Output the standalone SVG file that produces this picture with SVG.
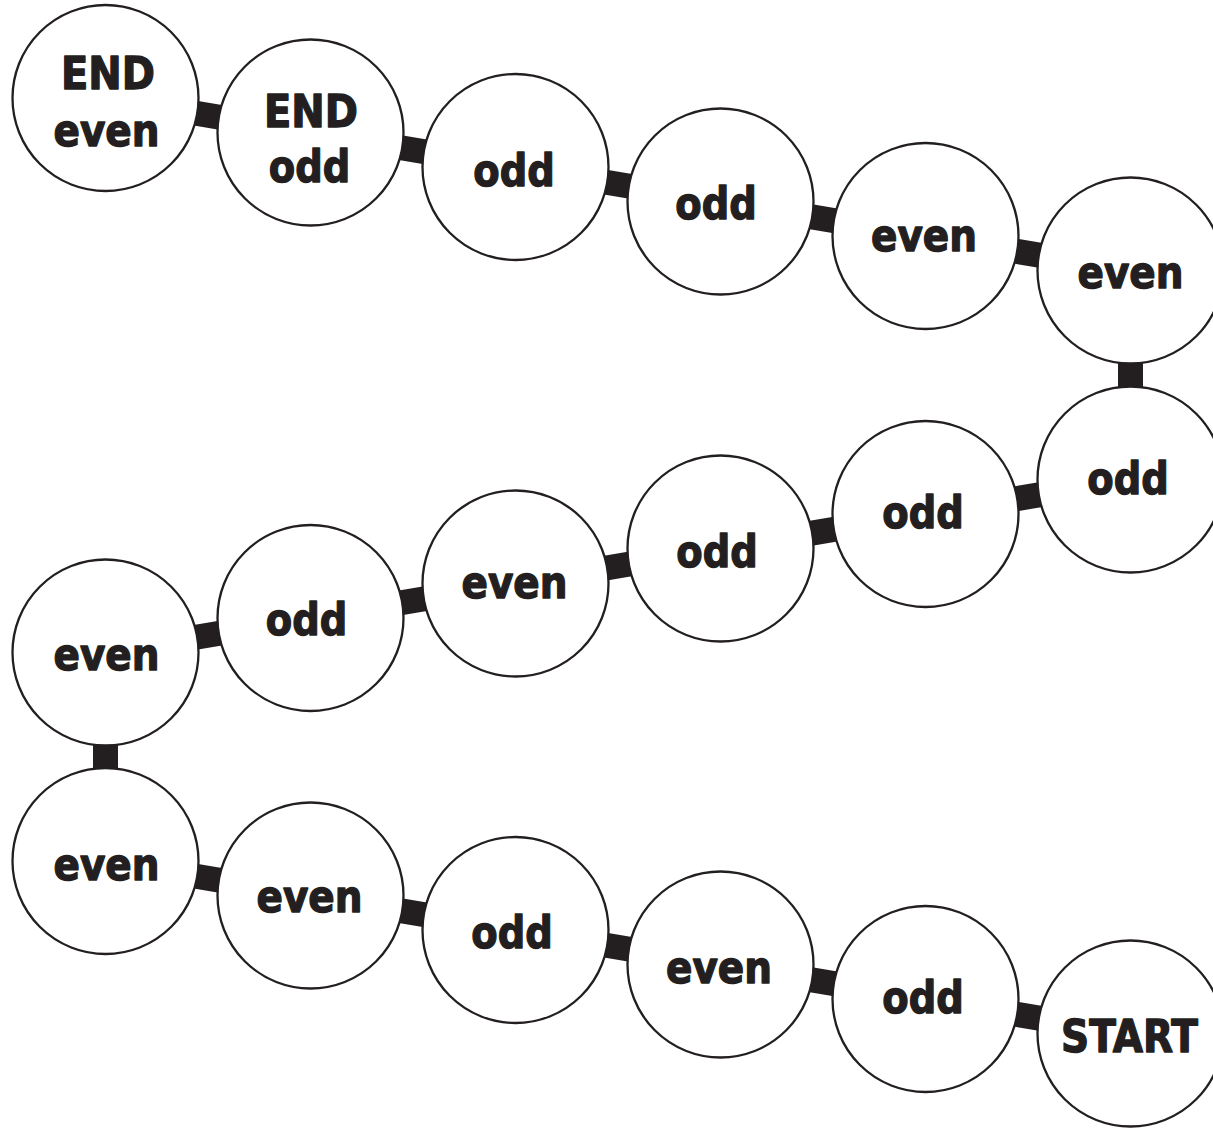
<svg xmlns="http://www.w3.org/2000/svg" width="1213" height="1130" viewBox="0 0 1213 1130">
  <style>
    .node circle { fill: #ffffff; stroke: #231f20; stroke-width: 2.3; }
    .node text { font-family: "DejaVu Sans", Verdana, sans-serif; font-weight: bold; font-size: 45px; fill: #231f20; stroke: #231f20; stroke-width: 1.4; stroke-linejoin: round; text-anchor: middle; }
    .links line { stroke: #231f20; stroke-width: 25; stroke-linecap: butt; }
  </style>
  <rect width="1213" height="1130" fill="#ffffff"/>

  <!-- bars linking each pair of neighbouring spaces -->
  <g id="connectors" class="links">
    <line x1="105.5" y1="98" x2="310.5" y2="132.5"/>
    <line x1="310.5" y1="132.5" x2="515.5" y2="167"/>
    <line x1="515.5" y1="167" x2="720.5" y2="201.5"/>
    <line x1="720.5" y1="201.5" x2="925.5" y2="236"/>
    <line x1="925.5" y1="236" x2="1130.5" y2="270.5"/>
    <line x1="1130.5" y1="270.5" x2="1130.5" y2="479.5"/>
    <line x1="1130.5" y1="479.5" x2="925.5" y2="514"/>
    <line x1="925.5" y1="514" x2="720.5" y2="548.5"/>
    <line x1="720.5" y1="548.5" x2="515.5" y2="583.5"/>
    <line x1="515.5" y1="583.5" x2="310.5" y2="618"/>
    <line x1="310.5" y1="618" x2="105.5" y2="652.5"/>
    <line x1="105.5" y1="652.5" x2="105.5" y2="861"/>
    <line x1="105.5" y1="861" x2="310.5" y2="895.5"/>
    <line x1="310.5" y1="895.5" x2="515.5" y2="930"/>
    <line x1="515.5" y1="930" x2="720.5" y2="964.5"/>
    <line x1="720.5" y1="964.5" x2="925.5" y2="999"/>
    <line x1="925.5" y1="999" x2="1130.5" y2="1033.5"/>
  </g>

  <!-- top row -->
  <g id="n1" class="node">
    <circle cx="105.5" cy="98" r="93"/>
    <text x="108" y="89" textLength="94" lengthAdjust="spacingAndGlyphs">END</text>
    <text x="106.5" y="145.5" textLength="106" lengthAdjust="spacingAndGlyphs">even</text>
  </g>
  <g id="n2" class="node">
    <circle cx="310.5" cy="132.5" r="93"/>
    <text x="311" y="126.5" textLength="94" lengthAdjust="spacingAndGlyphs">END</text>
    <text x="309.5" y="182" textLength="81.5" lengthAdjust="spacingAndGlyphs">odd</text>
  </g>
  <g id="n3" class="node">
    <circle cx="515.5" cy="167" r="93"/>
    <text x="514" y="185.5" textLength="81.5" lengthAdjust="spacingAndGlyphs">odd</text>
  </g>
  <g id="n4" class="node">
    <circle cx="720.5" cy="201.5" r="93"/>
    <text x="716" y="219" textLength="81.5" lengthAdjust="spacingAndGlyphs">odd</text>
  </g>
  <g id="n5" class="node">
    <circle cx="925.5" cy="236" r="93"/>
    <text x="924" y="250.5" textLength="106" lengthAdjust="spacingAndGlyphs">even</text>
  </g>
  <g id="n6" class="node">
    <circle cx="1130.5" cy="270.5" r="93"/>
    <text x="1130.5" y="288" textLength="106" lengthAdjust="spacingAndGlyphs">even</text>
  </g>

  <!-- middle row -->
  <g id="n7" class="node">
    <circle cx="1130.5" cy="479.5" r="93"/>
    <text x="1128" y="493.5" textLength="81.5" lengthAdjust="spacingAndGlyphs">odd</text>
  </g>
  <g id="n8" class="node">
    <circle cx="925.5" cy="514" r="93"/>
    <text x="923" y="528" textLength="81.5" lengthAdjust="spacingAndGlyphs">odd</text>
  </g>
  <g id="n9" class="node">
    <circle cx="720.5" cy="548.5" r="93"/>
    <text x="717" y="566.5" textLength="81.5" lengthAdjust="spacingAndGlyphs">odd</text>
  </g>
  <g id="n10" class="node">
    <circle cx="515.5" cy="583.5" r="93"/>
    <text x="514.5" y="598" textLength="106" lengthAdjust="spacingAndGlyphs">even</text>
  </g>
  <g id="n11" class="node">
    <circle cx="310.5" cy="618" r="93"/>
    <text x="306.5" y="635" textLength="81.5" lengthAdjust="spacingAndGlyphs">odd</text>
  </g>
  <g id="n12" class="node">
    <circle cx="105.5" cy="652.5" r="93"/>
    <text x="106.5" y="670" textLength="106" lengthAdjust="spacingAndGlyphs">even</text>
  </g>

  <!-- bottom row -->
  <g id="n13" class="node">
    <circle cx="105.5" cy="861" r="93"/>
    <text x="106.5" y="880" textLength="106" lengthAdjust="spacingAndGlyphs">even</text>
  </g>
  <g id="n14" class="node">
    <circle cx="310.5" cy="895.5" r="93"/>
    <text x="309.5" y="912" textLength="106" lengthAdjust="spacingAndGlyphs">even</text>
  </g>
  <g id="n15" class="node">
    <circle cx="515.5" cy="930" r="93"/>
    <text x="512" y="947.5" textLength="81.5" lengthAdjust="spacingAndGlyphs">odd</text>
  </g>
  <g id="n16" class="node">
    <circle cx="720.5" cy="964.5" r="93"/>
    <text x="719" y="983" textLength="106" lengthAdjust="spacingAndGlyphs">even</text>
  </g>
  <g id="n17" class="node">
    <circle cx="925.5" cy="999" r="93"/>
    <text x="923" y="1012.5" textLength="81.5" lengthAdjust="spacingAndGlyphs">odd</text>
  </g>
  <g id="n18" class="node">
    <circle cx="1130.5" cy="1033.5" r="93"/>
    <text x="1129.5" y="1051.5" textLength="137" lengthAdjust="spacingAndGlyphs">START</text>
  </g>
</svg>
